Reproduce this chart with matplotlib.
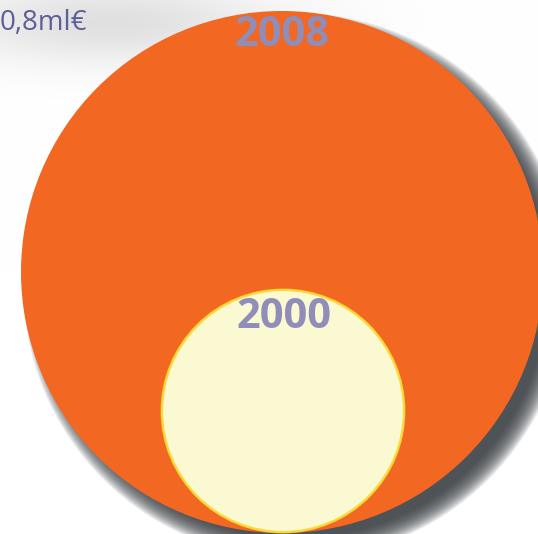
import numpy as np
import matplotlib.pyplot as plt
from matplotlib.patches import Circle

# data: relative size of the two bubbles (area)
years = ["2000", "2008"]
values = [21.5, 100.0]
note = "0,8ml€"

W, H = 538, 534
fig = plt.figure(figsize=(W / 100, H / 100), dpi=100)
ax = fig.add_axes([0, 0, 1, 1])
ax.set_xlim(0, W)
ax.set_ylim(H, 0)
ax.axis("off")

# soft grey haze along the top-left
yy, xx = np.mgrid[0:H, 0:W]
haze = np.exp(-(((xx - 110) / 170.0) ** 2 + ((yy - 22) / 42.0) ** 2))
bg = np.ones((H, W, 3)) - 0.12 * haze[..., None]
ax.imshow(bg, extent=[0, W, H, 0], zorder=0)

# scale: radius proportional to sqrt(area)
big_r = 261
scale = big_r / np.sqrt(max(values))
radii = [np.sqrt(v) * scale for v in values]
cx_big, cy_big = 282, 272

# blurred shadow of the big bubble, only down-right
for i in range(22):
    ax.add_patch(Circle((cx_big + 14, cy_big + 14), radii[1] + 12 - i * 1.0,
                        facecolor="#3a3f45", edgecolor="none", alpha=0.09, zorder=1))

ax.add_patch(Circle((cx_big, cy_big), radii[1], facecolor="#F26722",
                    edgecolor="none", zorder=2))

# small bubble sits at the bottom of the big one
r0 = radii[0]
cx_s, cy_s = cx_big + 1, cy_big + radii[1] - r0 - 1
ax.add_patch(Circle((cx_s, cy_s), r0 + 1.5, facecolor="#F6A21C", edgecolor="none", zorder=3))
ax.add_patch(Circle((cx_s, cy_s), r0, facecolor="#FAF9D2", edgecolor="#F8DA3A",
                    lw=1.6, zorder=4))

txt_color = "#908DB8"
ax.text(cx_big, 35, years[1], ha="center", va="center", fontsize=30,
        fontweight="bold", family="Open Sans", color=txt_color, zorder=5)
ax.text(cx_s + 1, 317, years[0], ha="center", va="center", fontsize=30,
        fontweight="bold", family="Open Sans", color=txt_color, zorder=5)

ax.text(0, 23, note, ha="left", va="center", fontsize=20, family="Open Sans",
        color="#5E5E9A", zorder=5)

fig.savefig("out.png", dpi=100)
